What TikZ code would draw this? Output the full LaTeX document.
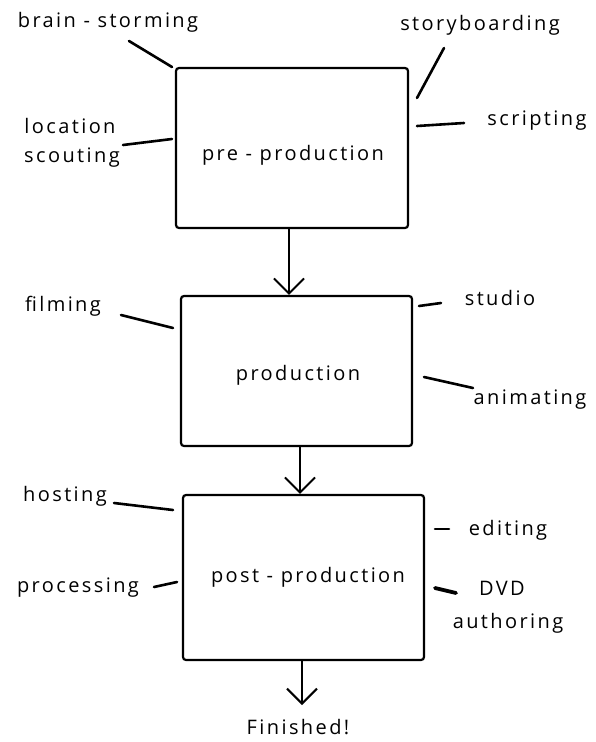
\documentclass[tikz,border=0pt]{standalone}
\usepackage{fontspec}
\setmainfont{Open Sans}[LetterSpace=12]
\usetikzlibrary{arrows.meta}
\begin{document}
\begin{tikzpicture}[x=1pt,y=-1pt,
  every node/.style={font=\fontsize{20}{23}\selectfont, inner sep=0pt},
  stagebox/.style={draw, line width=2.2pt, rounded corners=3pt},
  txt/.style={anchor=center},
  stroke/.style={line width=2.6pt, line cap=round},
  flow/.style={line width=2pt, line cap=round, -{Straight Barb[length=15pt,width=30pt,line width=2pt]}}]
\useasboundingbox (0,0) rectangle (596,742);
% boxes
\node[stagebox, minimum width=232pt, minimum height=160pt] (b1) at (292,148) {};
\node[stagebox, minimum width=231pt, minimum height=150pt] (b2) at (296.5,371) {};
\node[stagebox, minimum width=241pt, minimum height=165pt] (b3) at (303.5,577.5) {};
% box texts
\node[txt] (t1) at (293,155) {pre - production};
\node[txt] (t2) at (298,375) {production};
\node[txt] (t3) at (308,577) {post - production};
% labels
\node[txt] (bs) at (108,22) {brain - storming};
\node[txt] (sb) at (480,25) {storyboarding};
\node[txt] (loc) at (70,126) {location};
\node[txt] (sco) at (72,158) {scouting};
\node[txt] (scr) at (537,121) {scripting};
\node[txt] (fil) at (63,306) {filming};
\node[txt] (stu) at (500,298) {studio};
\node[txt] (ani) at (530,400) {animating};
\node[txt] (hos) at (65,496) {hosting};
\node[txt] (edi) at (508,530) {editing};
\node[txt] (pro) at (78,588) {processing};
\node[txt] (dvd) at (502,588) {DVD};
\node[txt] (aut) at (508,623) {authoring};
\node[txt] (fin) at (298,727) {Finished!};
% stroke end points
\coordinate (bsA) at (129,41);  \coordinate (bsB) at (172,67);
\coordinate (locA) at (123,145); \coordinate (locB) at (172,139);
\coordinate (sbA) at (444,48);  \coordinate (sbB) at (417,98);
\coordinate (scrA) at (464,123); \coordinate (scrB) at (417,126);
\coordinate (filA) at (121,315); \coordinate (filB) at (173,328);
\coordinate (stuA) at (441,303); \coordinate (stuB) at (419,306);
\coordinate (aniA) at (473,388); \coordinate (aniB) at (424,377);
\coordinate (hosA) at (114,503); \coordinate (hosB) at (173,510);
\coordinate (ediA) at (449,529); \coordinate (ediB) at (435,529);
\coordinate (proA) at (154,587); \coordinate (proB) at (177,582);
\coordinate (dvdA) at (456,593); \coordinate (dvdB) at (435,588);
\coordinate (finA) at (302,705);
\draw[stroke] (bsA) -- (bsB);
\draw[stroke] (locA) -- (locB);
\draw[stroke] (sbA) -- (sbB);
\draw[stroke] (scrA) -- (scrB);
\draw[stroke] (filA) -- (filB);
\draw[stroke] (stuA) -- (stuB);
\draw[stroke] (aniA) -- (aniB);
\draw[stroke] (hosA) -- (hosB);
\draw[stroke] (ediA) -- (ediB);
\draw[stroke] (proA) -- (proB);
\draw[stroke, line width=3.8pt] (dvdA) -- (dvdB);
% flow arrows
\draw[flow] ([xshift=-3pt]b1.south) -- ([xshift=-3pt]b1.south |- b2.north);
\draw[flow] ([xshift=3.5pt]b2.south) -- ([xshift=3.5pt]b2.south |- b3.north);
\draw[flow] ([xshift=-1.5pt]b3.south) -- (finA);
\end{tikzpicture}
\end{document}
